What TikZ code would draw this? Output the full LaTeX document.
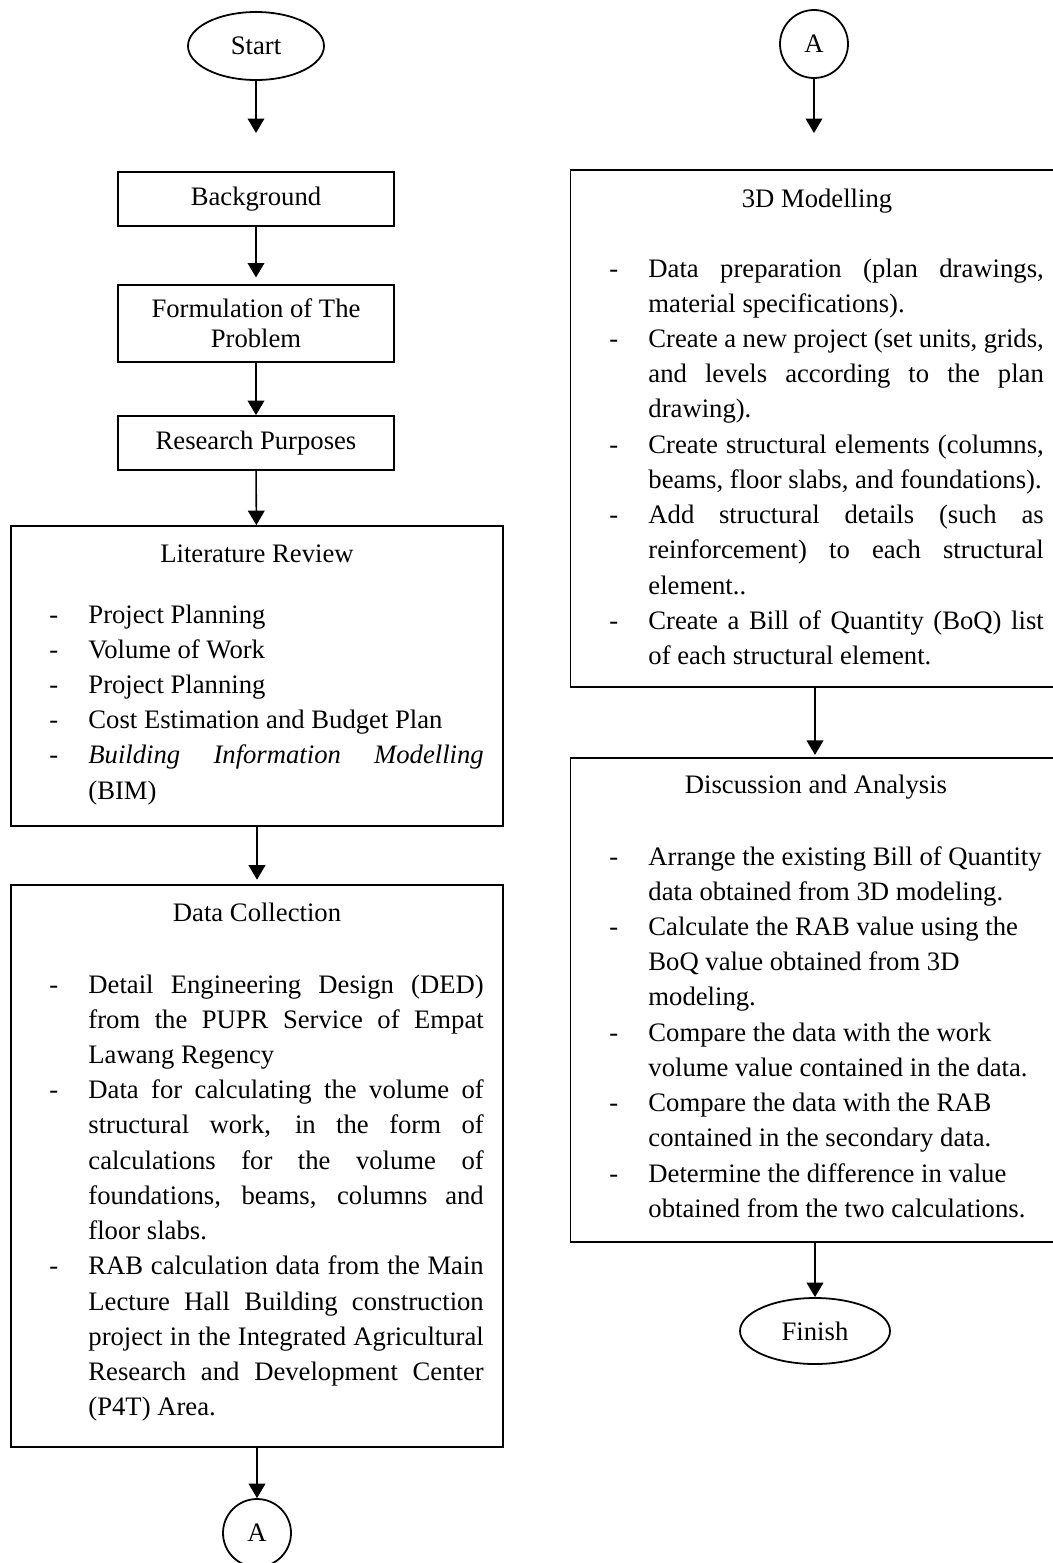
\documentclass[tikz,border=0pt]{standalone}
\usepackage{fontspec}
\setmainfont{Liberation Serif}
\usetikzlibrary{shapes.geometric,arrows.meta}

\hyphenpenalty=10000
\exhyphenpenalty=10000
\newcommand{\itm}[1]{\hangindent=21.6pt\hangafter=1\noindent\makebox[21.6pt][l]{\hspace{4pt}-}#1\par}

\tikzset{
  flow/.style={draw,line width=0.8pt,inner sep=0pt},
  term/.style={flow,ellipse},
  conn/.style={flow,circle,minimum size=30.6pt},
  smallbox/.style={flow,rectangle,minimum width=124.2pt,align=center},
  bigbox/.style={flow,rectangle},
  boxtitle/.style={anchor=base,inner sep=0pt},
  listbody/.style={anchor=base west,text width=199.5pt,align=justify,inner sep=0pt,font=\fontsize{12}{15.85}\selectfont},
  arr/.style={-{Triangle[width=7.5pt,length=6.5pt]},line width=0.7pt}
}

\begin{document}
\begin{tikzpicture}[x=0.45pt,y=-0.45pt,font=\fontsize{12}{13.5}\selectfont]
\useasboundingbox (0,0) rectangle (1052,1563);

% left column
\node[term,minimum width=61.2pt,minimum height=30.6pt] (start) at (256,46) {Start};
\coordinate (startEnd) at (256,133);
\node[smallbox,minimum height=24.3pt] (backgr) at (256,199) {Background};
\node[smallbox,minimum height=34.65pt] (formul) at (256,323.5) {Formulation of The\\Problem};
\node[smallbox,minimum height=24.3pt] (purpose) at (256,443) {Research Purposes};

\node[bigbox,minimum width=221.4pt,minimum height=135pt] (litrev) at (257,676) {};
\node[boxtitle] (litrevT) at (257,562) {Literature Review};
\node[listbody] (litrevL) at (40,623) {%
\itm{Project Planning}
\itm{Volume of Work}
\itm{Project Planning}
\itm{Cost Estimation and Budget Plan}
\itm{\textit{Building Information Modelling}\linebreak (BIM)}};

\node[bigbox,minimum width=221.4pt,minimum height=252.9pt] (datacol) at (257,1166) {};
\node[boxtitle] (datacolT) at (257,921) {Data Collection};
\node[listbody] (datacolL) at (40,993) {%
\itm{Detail Engineering Design (DED)\linebreak from the PUPR Service of Empat\linebreak Lawang Regency}
\itm{Data for calculating the volume of\linebreak structural work, in the form of\linebreak calculations for the volume of\linebreak foundations, beams, columns and\linebreak floor slabs.}
\itm{RAB calculation data from the Main\linebreak Lecture Hall Building construction\linebreak project in the Integrated Agricultural\linebreak Research and Development Center\linebreak (P4T) Area.}};

\node[conn] (connA) at (257,1533) {A};

% right column
\node[conn] (connB) at (814,44) {A};
\coordinate (connBEnd) at (814,133);

\node[bigbox,minimum width=220pt,minimum height=232.65pt] (model) at (815,428.5) {};
\node[boxtitle] (modelT) at (817,207) {3D Modelling};
\node[listbody] (modelL) at (600,277) {%
\itm{Data preparation (plan drawings,\linebreak material specifications).}
\itm{Create a new project (set units, grids,\linebreak and levels according to the plan\linebreak drawing).}
\itm{Create structural elements (columns,\linebreak beams, floor slabs, and foundations).}
\itm{Add structural details (such as\linebreak reinforcement) to each structural\linebreak element..}
\itm{Create a Bill of Quantity (BoQ) list\linebreak of each structural element.}};

\node[bigbox,minimum width=220pt,minimum height=217.8pt] (discuss) at (815,1000) {};
\node[boxtitle] (discussT) at (816,793) {Discussion and Analysis};
\node[listbody] (discussL) at (600,865) {%
\itm{Arrange the existing Bill of Quantity\newline data obtained from 3D modeling.}
\itm{Calculate the RAB value using the\newline BoQ value obtained from 3D\newline modeling.}
\itm{Compare the data with the work\newline volume value contained in the data.}
\itm{Compare the data with the RAB\newline contained in the secondary data.}
\itm{Determine the difference in value\newline obtained from the two calculations.}};

\node[term,minimum width=67.5pt,minimum height=29.7pt] (finish) at (815,1331) {Finish};

% arrows
\draw[arr] (start) -- (startEnd);
\draw[arr,shorten >=3pt] (backgr) -- (formul);
\draw[arr] (formul) -- (purpose);
\draw[arr] (purpose) -- (litrev);
\draw[arr,shorten >=2pt] (litrev) -- (datacol);
\draw[arr] (datacol) -- (connA);
\draw[arr] (connB) -- (connBEnd);
\draw[arr,shorten >=1pt] (model) -- (discuss);
\draw[arr] (discuss) -- (finish);
\end{tikzpicture}
\end{document}
